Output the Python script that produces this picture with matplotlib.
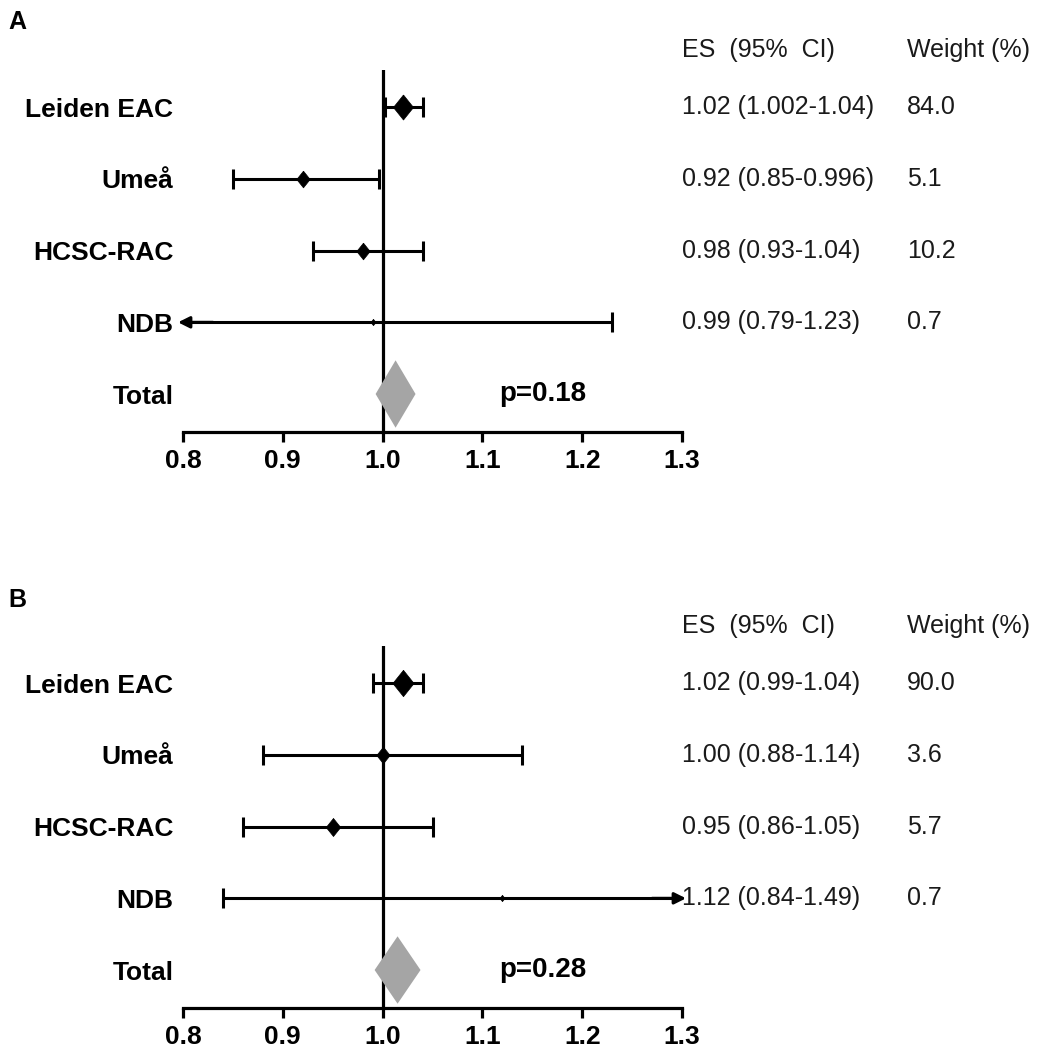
import numpy as np
import matplotlib
matplotlib.use("Agg")
import matplotlib.pyplot as plt
from matplotlib.transforms import blended_transform_factory

plt.rcParams["font.family"] = ["Liberation Sans", "DejaVu Sans"]

# ====================== data ======================
studies = ["Leiden EAC", "Umeå", "HCSC-RAC", "NDB"]

es_a = [1.02, 0.92, 0.98, 0.99]
lo_a = [1.002, 0.85, 0.93, 0.79]
hi_a = [1.04, 0.996, 1.04, 1.23]
w_a = ["84.0", "5.1", "10.2", "0.7"]
ci_a = ["1.02 (1.002-1.04)", "0.92 (0.85-0.996)", "0.98 (0.93-1.04)", "0.99 (0.79-1.23)"]
tot_a = [0.993, 1.013, 1.033]   # lower, pooled, upper
p_a = "p=0.18"

es_b = [1.02, 1.00, 0.95, 1.12]
lo_b = [0.99, 0.88, 0.86, 0.84]
hi_b = [1.04, 1.14, 1.05, 1.49]
w_b = ["90.0", "3.6", "5.7", "0.7"]
ci_b = ["1.02 (0.99-1.04)", "1.00 (0.88-1.14)", "0.95 (0.86-1.05)", "1.12 (0.84-1.49)"]
tot_b = [0.992, 1.015, 1.038]
p_b = "p=0.28"

xticks = [0.8, 0.9, 1.0, 1.1, 1.2, 1.3]

# marker heights (points), style only
ms_a = [18, 12, 12, 4.5]
ms_b = [19, 12, 13, 4.5]

XMIN, XMAX = 0.8, 1.3
diamond = [(0, 1), (0.8, 0), (0, -1), (-0.8, 0), (0, 1)]


def forest(ax, es, lo, hi, wts, ci, tot, ptxt, ms, fig):
    ys = [4, 3, 2, 1]
    ax.set_xlim(XMIN, XMAX)
    ax.set_ylim(-0.53, 4.52)
    for s in ["top", "right", "left"]:
        ax.spines[s].set_visible(False)
    ax.spines["bottom"].set_linewidth(2.3)
    ax.axvline(1.0, color="k", lw=2.3, zorder=1)

    for y, e, l, h, m in zip(ys, es, lo, hi, ms):
        l_c = max(l, XMIN)
        h_c = min(h, XMAX)
        ax.plot([l_c, h_c], [y, y], color="k", lw=2.2, solid_capstyle="butt", clip_on=False, zorder=2)
        if l >= XMIN:
            ax.plot([l], [y], marker="|", ms=15, mew=2.2, color="k", zorder=3)
        else:
            ax.annotate("", xy=(XMIN - 0.005, y), xytext=(XMIN + 0.03, y),
                        arrowprops=dict(arrowstyle="-|>", lw=2.2, color="k", mutation_scale=17,
                                        shrinkA=0, shrinkB=0), annotation_clip=False)
        if h <= XMAX:
            ax.plot([h], [y], marker="|", ms=15, mew=2.2, color="k", zorder=3)
        else:
            ax.annotate("", xy=(XMAX + 0.004, y), xytext=(XMAX - 0.03, y),
                        arrowprops=dict(arrowstyle="-|>", lw=2.2, color="k", mutation_scale=17,
                                        shrinkA=0, shrinkB=0), annotation_clip=False)
        ax.plot([e], [y], marker=diamond, ms=m, color="k", mec="k", mew=0.5, zorder=4)

    # pooled diamond
    ax.fill([tot[0], tot[1], tot[2], tot[1]], [0, 0.47, 0, -0.47], color="#a5a5a5", lw=0, zorder=5)

    ax.text(1.117, 0, ptxt, fontsize=20, fontweight="bold", ha="left", va="center")

    ax.set_yticks(ys + [0])
    ax.set_yticklabels(studies + ["Total"], fontsize=19, fontweight="bold")
    ax.tick_params(axis="y", length=0, pad=7)
    ax.set_xticks(xticks)
    ax.set_xticklabels(["%.1f" % t for t in xticks], fontsize=19, fontweight="bold")
    ax.tick_params(axis="x", direction="out", length=7, width=2.3, pad=5)

    tr = blended_transform_factory(fig.transFigure, ax.transData)
    x_es = 682 / 1043
    x_w = 907 / 1043
    ax.text(x_es, 4.8, "ES  (95%  CI)", transform=tr, fontsize=18, color="#1a1a1a", va="center", clip_on=False)
    ax.text(x_w, 4.8, "Weight (%)", transform=tr, fontsize=18, color="#1a1a1a", va="center", clip_on=False)
    for y, c, w in zip(ys, ci, wts):
        ax.text(x_es, y, c, transform=tr, fontsize=18, color="#1a1a1a", va="center", clip_on=False)
        ax.text(x_w, y, w, transform=tr, fontsize=18, color="#1a1a1a", va="center", clip_on=False)


fig = plt.figure(figsize=(10.43, 10.5), dpi=100)
ax_a = fig.add_axes([183 / 1043, 1 - 432 / 1050, 499 / 1043, 362 / 1050])
ax_b = fig.add_axes([183 / 1043, 1 - 1008 / 1050, 499 / 1043, 362 / 1050])

forest(ax_a, es_a, lo_a, hi_a, w_a, ci_a, tot_a, p_a, ms_a, fig)
forest(ax_b, es_b, lo_b, hi_b, w_b, ci_b, tot_b, p_b, ms_b, fig)

# panel letters
fig.text(8 / 1043, 1 - 22 / 1050, "A", fontsize=18, fontweight="bold", va="center")
fig.text(8 / 1043, 1 - 600 / 1050, "B", fontsize=18, fontweight="bold", va="center")

fig.savefig("out.png", dpi=100)
